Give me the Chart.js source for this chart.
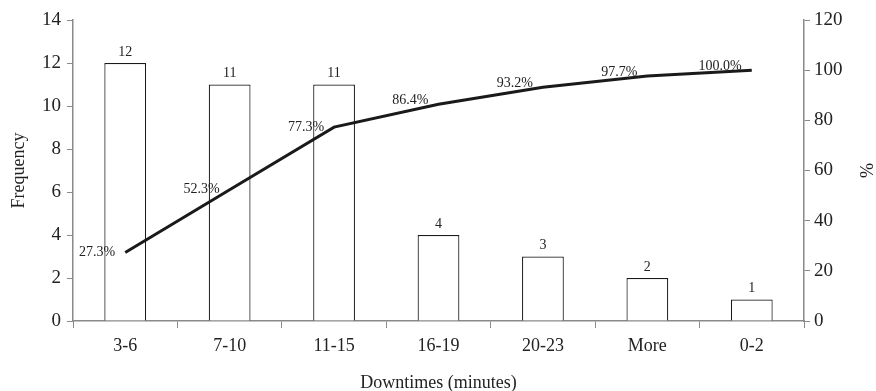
<!DOCTYPE html>
<html>
<head>
<meta charset="utf-8">
<script src="https://cdn.jsdelivr.net/npm/chart.js@4/dist/chart.umd.min.js"></script>
<style>
  html, body { margin: 0; padding: 0; background: #fff; }
  #wrap { width: 876px; height: 391px; }
</style>
</head>
<body>
<div id="wrap"><canvas id="myChart"></canvas></div>
<script>
// data
const bins = ['3-6', '7-10', '11-15', '16-19', '20-23', 'More', '0-2'];
const frequency = [12, 11, 11, 4, 3, 2, 1];
const cumPercent = [27.3, 52.3, 77.3, 86.4, 93.2, 97.7, 100.0];

const serif = "'Liberation Serif', 'DejaVu Serif', serif";
const axisGray = '#8a8a8a';
const ink = '#222';

// draws the small value labels on bars and line points
const valueLabels = {
  id: 'valueLabels',
  afterDatasetsDraw(chart) {
    const ctx = chart.ctx;
    ctx.save();
    ctx.font = '14px ' + serif;
    ctx.fillStyle = ink;

    let bars = chart.getDatasetMeta(1).data;
    bars.forEach((b, i) => {
      ctx.textAlign = 'center';
      ctx.textBaseline = 'bottom';
      ctx.fillText(String(frequency[i]), b.x, b.y - 4);
    });

    let pts = chart.getDatasetMeta(0).data;
    pts.forEach((p, i) => {
      ctx.textAlign = 'right';
      ctx.textBaseline = 'middle';
      let dy = i < 3 ? 0 : -4;
      ctx.fillText(cumPercent[i].toFixed(1) + '%', p.x - 10, p.y + dy);
    });
    ctx.restore();
  }
};

let ctx = document.getElementById('myChart').getContext('2d');
let myChart = new Chart(ctx, {
  data: {
    labels: bins,
    datasets: [{
      type: 'line',
      data: cumPercent,
      yAxisID: 'y1',
      borderColor: '#1a1a1a',
      borderWidth: 3,
      pointRadius: 0,
      tension: 0,
      order: 0
    }, {
      type: 'bar',
      data: frequency,
      yAxisID: 'y',
      backgroundColor: '#ffffff',
      borderColor: '#1a1a1a',
      borderWidth: 1.2,
      barPercentage: 0.8,
      categoryPercentage: 0.5,
      order: 1
    }]
  },
  options: {
    responsive: true,
    maintainAspectRatio: false,
    animation: false,
    layout: { padding: { top: 20, left: 0, right: 0, bottom: 0 } },
    plugins: {
      legend: { display: false },
      tooltip: { enabled: false }
    },
    scales: {
      x: {
        offset: true,
        grid: { offset: true, drawOnChartArea: false, drawTicks: true, tickLength: 7, tickColor: axisGray },
        border: { color: axisGray, width: 1.5 },
        ticks: { color: ink, font: { family: serif, size: 18 }, padding: 7 },
        title: { display: true, text: 'Downtimes (minutes)', color: ink, font: { family: serif, size: 18 }, padding: { top: 14, bottom: -3 } },
        afterFit(scale) { scale.height = 70; }
      },
      y: {
        position: 'left',
        min: 0, max: 14,
        ticks: { stepSize: 2, color: ink, font: { family: serif, size: 19 }, padding: 6 },
        grid: { drawOnChartArea: false, tickLength: 6, tickColor: axisGray },
        border: { color: axisGray, width: 1.5 },
        title: { display: true, text: 'Frequency', color: ink, font: { family: serif, size: 18 }, padding: { top: 8, bottom: 0 } },
        afterFit(scale) { scale.width = 73; }
      },
      y1: {
        position: 'right',
        min: 0, max: 120,
        ticks: { stepSize: 20, color: ink, font: { family: serif, size: 19 }, padding: 4 },
        grid: { drawOnChartArea: false, tickLength: 6, tickColor: axisGray },
        border: { color: axisGray, width: 1.5 },
        title: { display: true, text: '%', color: ink, font: { family: serif, size: 18 }, padding: { top: 0, bottom: 0 } },
        afterFit(scale) { scale.width = 72; }
      }
    }
  },
  plugins: [valueLabels]
});
</script>
</body>
</html>
